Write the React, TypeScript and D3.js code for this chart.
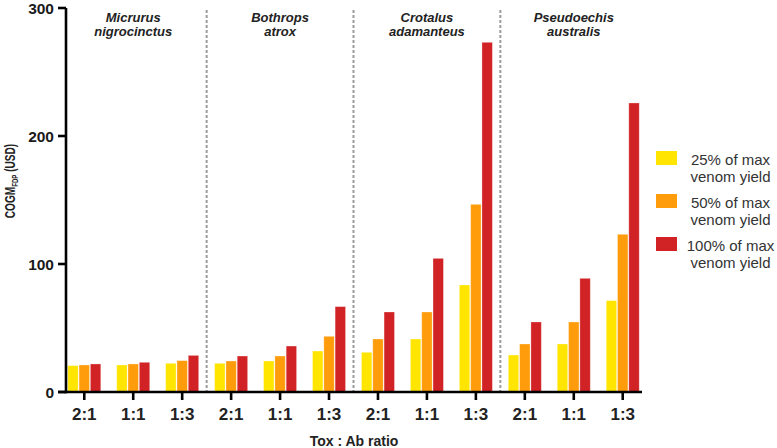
import * as d3 from 'd3'
import React, { FC } from 'react'

// chart data
const species = ['Micrurus nigrocinctus', 'Bothrops atrox', 'Crotalus adamanteus', 'Pseudoechis australis']
const ratios = ['2:1', '1:1', '1:3']
const yieldLabels = ['25% of max venom yield', '50% of max venom yield', '100% of max venom yield']
const yield25 = [20.6, 21.1, 22.4, 22.4, 24.2, 32, 31, 41.4, 83.6, 28.9, 37.5, 71.4]
const yield50 = [21.1, 21.9, 24.5, 24.2, 28.1, 43.5, 41.4, 62.5, 146.6, 37.5, 54.7, 123.2]
const yield100 = [21.9, 23.2, 28.6, 28.1, 35.9, 66.7, 62.5, 104.4, 273.2, 54.7, 88.8, 225.8]
const yTicks = [0, 100, 200, 300]

const colors = ['#FFE500', '#FF9C0B', '#D12325']
const font = '"Liberation Sans", Arial, Helvetica, sans-serif'

const App: FC = () => {
  const W = 777
  const H = 448
  const margin = { top: 8, left: 66, bottom: 56 }
  const plotBottom = H - margin.bottom
  const series = [yield25, yield50, yield100]

  const scaleY = d3.scaleLinear().domain([0, 300]).range([plotBottom, margin.top])
  const scaleSpecies = d3.scaleBand<string>().domain(species).range([59.8, 647.2])
  const scaleRatio = d3.scaleBand<string>().domain(ratios).range([0, scaleSpecies.bandwidth()])
  const subX = d3.scaleBand<number>().domain([0, 1, 2]).range([-16.5, 16.5]).paddingInner(0.08)

  const center = (s: string, r: string) =>
    (scaleSpecies(s) || 0) + (scaleRatio(r) || 0) + scaleRatio.bandwidth() / 2

  return (
    <svg
      width={W}
      height={H}
      style={{ position: 'absolute', left: 0, top: 0, background: '#fff' }}
      fontFamily={font}
    >
      {/* dashed dividers between species */}
      {species.slice(1).map((s) => (
        <line
          key={`div-${s}`}
          x1={scaleSpecies(s)}
          x2={scaleSpecies(s)}
          y1={margin.top + 2}
          y2={plotBottom}
          stroke='#9b9b9b'
          strokeWidth={2}
          strokeDasharray='3,2'
        />
      ))}

      {/* species titles */}
      {species.map((s) => {
        const cx = (scaleSpecies(s) || 0) + scaleSpecies.bandwidth() / 2
        const words = s.split(' ')
        return (
          <text
            key={`sp-${s}`}
            x={cx}
            y={22}
            textAnchor='middle'
            fontSize={13}
            fontWeight='bold'
            fontStyle='italic'
            fill='#222'
          >
            {words.map((w, i) => (
              <tspan key={w} x={cx} dy={i === 0 ? 0 : 14}>
                {w}
              </tspan>
            ))}
          </text>
        )
      })}

      {/* bars */}
      {species.map((s, si) =>
        ratios.map((r, ri) => {
          const idx = si * ratios.length + ri
          const cx = center(s, r)
          return (
            <g key={`grp-${idx}`}>
              {series.map((vals, k) => (
                <rect
                  key={`bar-${idx}-${k}`}
                  x={cx + (subX(k) || 0)}
                  y={scaleY(vals[idx])}
                  width={subX.bandwidth()}
                  height={plotBottom - scaleY(vals[idx])}
                  fill={colors[k]}
                  stroke='#ffffff'
                  strokeOpacity={0.35}
                  strokeWidth={0.8}
                />
              ))}
            </g>
          )
        })
      )}

      {/* y axis */}
      <line x1={margin.left} x2={margin.left} y1={margin.top} y2={plotBottom + 1.2} stroke='#000' strokeWidth={2.6} />
      {yTicks.map((t) => (
        <g key={`yt-${t}`}>
          <line x1={58} x2={margin.left} y1={scaleY(t)} y2={scaleY(t)} stroke='#000' strokeWidth={2.6} />
          <text
            x={54}
            y={scaleY(t)}
            dy='0.36em'
            textAnchor='end'
            fontSize={15.5}
            fontWeight='bold'
            fill='#1a1a1a'
          >
            {t}
          </text>
        </g>
      ))}

      {/* x axis */}
      <line x1={58} x2={642} y1={plotBottom} y2={plotBottom} stroke='#000' strokeWidth={2.6} />
      {species.map((s) =>
        ratios.map((r) => {
          const cx = center(s, r)
          return (
            <g key={`xt-${s}-${r}`}>
              <line x1={cx} x2={cx} y1={plotBottom} y2={plotBottom + 8} stroke='#000' strokeWidth={2.6} />
              <text x={cx} y={plotBottom + 28} textAnchor='middle' fontSize={17} fontWeight='bold' fill='#222'>
                {r}
              </text>
            </g>
          )
        })
      )}

      {/* axis titles */}
      <text x={354} y={446} textAnchor='middle' fontSize={14} fontWeight='bold' fill='#222'>
        Tox : Ab ratio
      </text>
      <text
        transform={`translate(15, 181) rotate(-90) scale(0.72, 1)`}
        textAnchor='middle'
        fontSize={14}
        fontWeight='bold'
        fill='#222'
      >
        COGM
        <tspan fontSize={8.5} dy={3}>
          FDP
        </tspan>
        <tspan dy={-3}> (USD)</tspan>
      </text>

      {/* legend */}
      {yieldLabels.map((lbl, i) => {
        const y0 = 151 + i * 43
        const words = lbl.split(' ')
        const line1 = words.slice(0, 3).join(' ')
        const line2 = words.slice(3).join(' ')
        return (
          <g key={`leg-${i}`}>
            <rect x={656} y={y0} width={21} height={14} fill={colors[i]} />
            <text x={730.5} y={y0 + 14} textAnchor='middle' fontSize={15} fill='#333'>
              <tspan x={730.5}>{line1}</tspan>
              <tspan x={730.5} dy={16.5}>
                {line2}
              </tspan>
            </text>
          </g>
        )
      })}
    </svg>
  )
}

export default App
